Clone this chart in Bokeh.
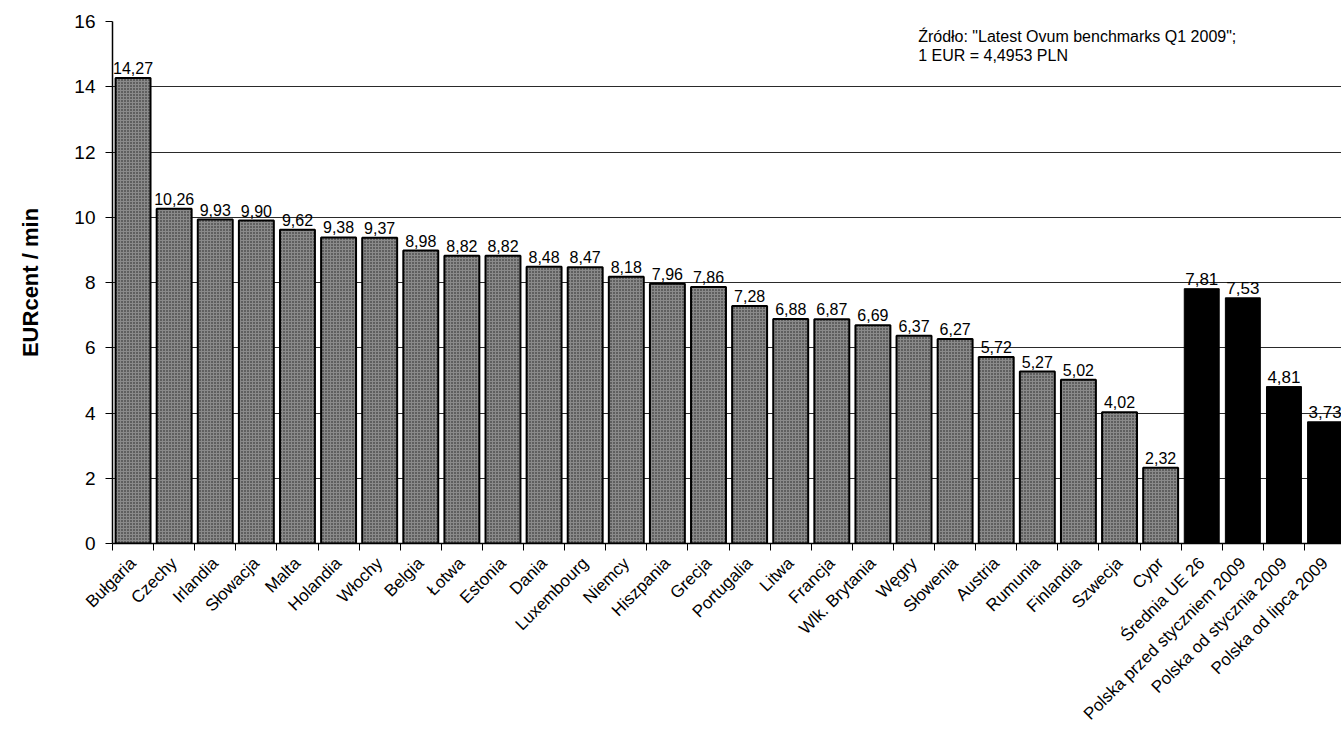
import math
from bokeh.plotting import figure
from bokeh.models import Range1d, FixedTicker, ColumnDataSource, Label
from bokeh.core.properties import value
from bokeh.embed import file_html
from bokeh.resources import INLINE

# ---- data ----
kategorie = ["Bułgaria", "Czechy", "Irlandia", "Słowacja", "Malta", "Holandia", "Włochy",
             "Belgia", "Łotwa", "Estonia", "Dania", "Luxembourg", "Niemcy", "Hiszpania",
             "Grecja", "Portugalia", "Litwa", "Francja", "Wlk. Brytania", "Węgry",
             "Słowenia", "Austria", "Rumunia", "Finlandia", "Szwecja", "Cypr",
             "Średnia UE 26", "Polska przed styczniem 2009", "Polska od stycznia 2009",
             "Polska od lipca 2009"]
wartosci = [14.27, 10.26, 9.93, 9.90, 9.62, 9.38, 9.37, 8.98, 8.82, 8.82, 8.48, 8.47,
            8.18, 7.96, 7.86, 7.28, 6.88, 6.87, 6.69, 6.37, 6.27, 5.72, 5.27, 5.02,
            4.02, 2.32, 7.81, 7.53, 4.81, 3.73]
liczba_krajow = 26  # grey bars = individual countries; the rest are averages / Poland
y_ticks = [0, 2, 4, 6, 8, 10, 12, 14, 16]
zrodlo = ['Źródło: "Latest Ovum benchmarks Q1 2009";', "1 EUR = 4,4953 PLN"]

FONT = "Liberation Sans"

n = len(kategorie)
srodki = [i + 0.5 for i in range(n)]
granice = list(range(n + 1))
etykiety = [f"{v:.2f}".replace(".", ",") for v in wartosci]

src_grey = ColumnDataSource(dict(x=srodki[:liczba_krajow], top=wartosci[:liczba_krajow],
                                 lab=etykiety[:liczba_krajow]))
src_black = ColumnDataSource(dict(x=srodki[liczba_krajow:], top=wartosci[liczba_krajow:],
                                  lab=etykiety[liczba_krajow:]))

p = figure(width=1341, height=738, x_range=Range1d(0, n - 0.1), y_range=Range1d(0, 16),
           output_backend="svg", toolbar_location=None,
           min_border_left=112, min_border_right=0, min_border_top=21, min_border_bottom=195)
p.outline_line_color = None
p.background_fill_color = "white"

p.vbar(x="x", top="top", width=0.85, source=src_grey, fill_color="#8a8a8a",
       hatch_pattern="dot", hatch_color="#1e1e1e", hatch_scale=3, hatch_weight=1.4,
       line_color="black", line_width=2)
p.vbar(x="x", top="top", width=0.85, source=src_black, fill_color="black",
       line_color="black", line_width=1)

p.text(x="x", y="top", text="lab", source=src_grey, text_align="center",
       text_baseline="bottom", y_offset=-4, text_font=value(FONT), text_font_size="16px",
       text_color="black")
p.text(x="x", y="top", text="lab", source=src_black, text_align="center",
       text_baseline="bottom", y_offset=-4, text_font=value(FONT), text_font_size="17px",
       text_color="black")

# x axis
p.xgrid.visible = False
xa = p.xaxis[0]
xa.ticker = FixedTicker(ticks=srodki, minor_ticks=granice)
xa.major_label_overrides = {c: k for c, k in zip(srodki, kategorie)}
xa.major_label_orientation = math.pi / 4
xa.major_tick_out = 0
xa.major_tick_in = 0
xa.minor_tick_out = 7
xa.minor_tick_in = 0
xa.minor_tick_line_color = "black"
xa.axis_line_color = "black"
xa.axis_line_width = 1.5
xa.major_label_text_font = FONT
xa.major_label_text_font_size = "17px"
xa.major_label_text_color = "black"
xa.major_label_standoff = 10

# y axis
ya = p.yaxis[0]
ya.ticker = FixedTicker(ticks=y_ticks)
ya.minor_tick_line_color = None
ya.major_tick_out = 7
ya.major_tick_in = 0
ya.major_tick_line_color = "black"
ya.axis_line_color = "black"
ya.axis_line_width = 1.5
ya.major_label_text_font = FONT
ya.major_label_text_font_size = "19px"
ya.major_label_text_color = "black"
ya.major_label_standoff = 10
ya.axis_label = "EURcent / min"
ya.axis_label_text_font = FONT
ya.axis_label_text_font_size = "22px"
ya.axis_label_text_font_style = "bold"
ya.axis_label_text_color = "black"
ya.axis_label_standoff = 28

p.ygrid.grid_line_color = "#2a2a2a"
p.ygrid.grid_line_width = 1
p.ygrid.ticker = FixedTicker(ticks=y_ticks)

for i, t in enumerate(zrodlo):
    p.add_layout(Label(x=19.6, y=15.8 - i * 0.58, text=t, text_font=FONT,
                       text_font_size="16px", text_color="black", text_baseline="top"))

open("out.html", "w").write(file_html(p, INLINE))
